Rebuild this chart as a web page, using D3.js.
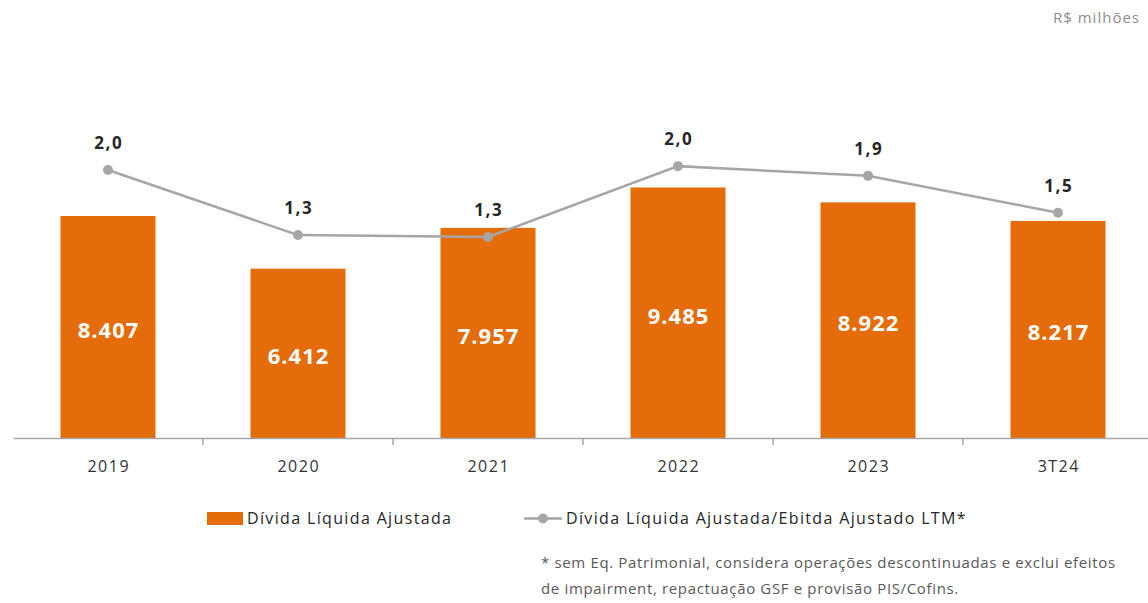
<!DOCTYPE html>
<html>
<head>
<meta charset="utf-8">
<script src="https://cdn.jsdelivr.net/npm/d3@7"></script>
<style>
	body{margin:0;background:#fff;}
	svg{display:block;font-family:"Open Sans",sans-serif;}
</style>
</head>
<body>
<svg width="1148" height="603"></svg>
<script>
const categories = ['2019','2020','2021','2022','2023','3T24'];
const dividaLiquida = [8407,6412,7957,9485,8922,8217];
const alavancagem = [1.98,1.31,1.29,2.02,1.92,1.54];
const alavancagemLabels = ['2,0','1,3','1,3','2,0','1,9','1,5'];
const barLabels = ['8.407','6.412','7.957','9.485','8.922','8.217'];
const legendLabels = ['Dívida Líquida Ajustada','Dívida Líquida Ajustada/Ebitda Ajustado LTM*'];
const footnote = [
	'* sem Eq. Patrimonial, considera operações descontinuadas e exclui efeitos',
	'de impairment, repactuação GSF e provisão PIS/Cofins.'
];

const orange = '#e46c0a';
const grey = '#a6a6a6';
const svg = d3.select('svg');
const baseY = 438;

const x = d3.scaleBand()
	.domain(categories)
	.range([13,1153])
	.paddingInner(0)
	.paddingOuter(0);
const y = d3.scaleLinear()
	.domain([0,10000])
	.range([baseY,baseY-264.1]);
// secondary axis for the ratio line
const y2 = d3.scaleLinear()
	.domain([-0.78,2.8])
	.range([baseY,90.4]);

const bw = x.bandwidth()*0.5;
const cx = (i)=>x(categories[i])+x.bandwidth()/2;

svg.append('g')
	.selectAll('rect')
	.data(dividaLiquida)
	.join('rect')
		.attr('x',(d,i)=>cx(i)-bw/2)
		.attr('y',d=>y(d))
		.attr('width',bw)
		.attr('height',d=>baseY-y(d))
		.attr('fill',orange);

svg.append('g')
	.selectAll('text')
	.data(dividaLiquida)
	.join('text')
		.attr('x',(d,i)=>cx(i)+0.5)
		.attr('y',d=>(y(d)+baseY)/2+3)
		.attr('dy','0.36em')
		.attr('text-anchor','middle')
		.attr('fill','#fff')
		.attr('font-weight','bold')
		.attr('font-size',22)
		.attr('letter-spacing',1)
		.text((d,i)=>barLabels[i]);

// x axis
const xAxis = d3.axisBottom(x).tickSize(0).tickPadding(23);
const gx = svg.append('g')
	.attr('transform',`translate(0,${baseY})`)
	.call(xAxis);
gx.select('.domain').attr('stroke',grey).attr('stroke-width',1.5);
gx.selectAll('.tick text')
	.attr('font-size',16)
	.attr('letter-spacing',1.5)
	.attr('dx',0.75)
	.attr('font-family','"Open Sans",sans-serif')
	.attr('fill','#333');
svg.append('g')
	.selectAll('line')
	.data(categories.slice(1))
	.join('line')
		.attr('x1',d=>x(d)).attr('x2',d=>x(d))
		.attr('y1',baseY).attr('y2',baseY+7)
		.attr('stroke',grey).attr('stroke-width',1.5);

// ratio line
const line = d3.line()
	.x((d,i)=>cx(i))
	.y(d=>y2(d));
svg.append('path')
	.datum(alavancagem)
	.attr('d',line)
	.attr('fill','none')
	.attr('stroke',grey)
	.attr('stroke-width',2.5);
svg.append('g')
	.selectAll('circle')
	.data(alavancagem)
	.join('circle')
		.attr('cx',(d,i)=>cx(i))
		.attr('cy',d=>y2(d))
		.attr('r',5)
		.attr('fill',grey);
svg.append('g')
	.selectAll('text')
	.data(alavancagem)
	.join('text')
		.attr('x',(d,i)=>cx(i)+0.75)
		.attr('y',d=>y2(d)-21)
		.attr('text-anchor','middle')
		.attr('fill','#262626')
		.attr('font-weight','bold')
		.attr('font-size',17)
		.attr('letter-spacing',1.5)
		.text((d,i)=>alavancagemLabels[i]);

// legend
const lg = svg.append('g').attr('font-size',16).attr('letter-spacing',1.35).attr('fill','#262626');
lg.append('rect').attr('x',207).attr('y',512).attr('width',36).attr('height',13).attr('fill',orange);
lg.append('text').attr('x',247).attr('y',524).text(legendLabels[0]);
lg.append('line').attr('x1',524).attr('x2',562).attr('y1',518.5).attr('y2',518.5).attr('stroke',grey).attr('stroke-width',2.5);
lg.append('circle').attr('cx',543).attr('cy',518.5).attr('r',5).attr('fill',grey);
lg.append('text').attr('x',566).attr('y',524).text(legendLabels[1]);

// footnote
svg.append('g')
	.selectAll('text')
	.data(footnote)
	.join('text')
		.attr('x',541)
		.attr('y',(d,i)=>568+i*26)
		.attr('font-size',15)
		.attr('letter-spacing',0.65)
		.attr('fill','#595959')
		.text(d=>d);

svg.append('text')
	.attr('x',1140).attr('y',23)
	.attr('text-anchor','end')
	.attr('font-size',15)
	.attr('letter-spacing',1)
	.attr('fill','#8c8c8c')
	.text('R$ milhões');
</script>
</body>
</html>
